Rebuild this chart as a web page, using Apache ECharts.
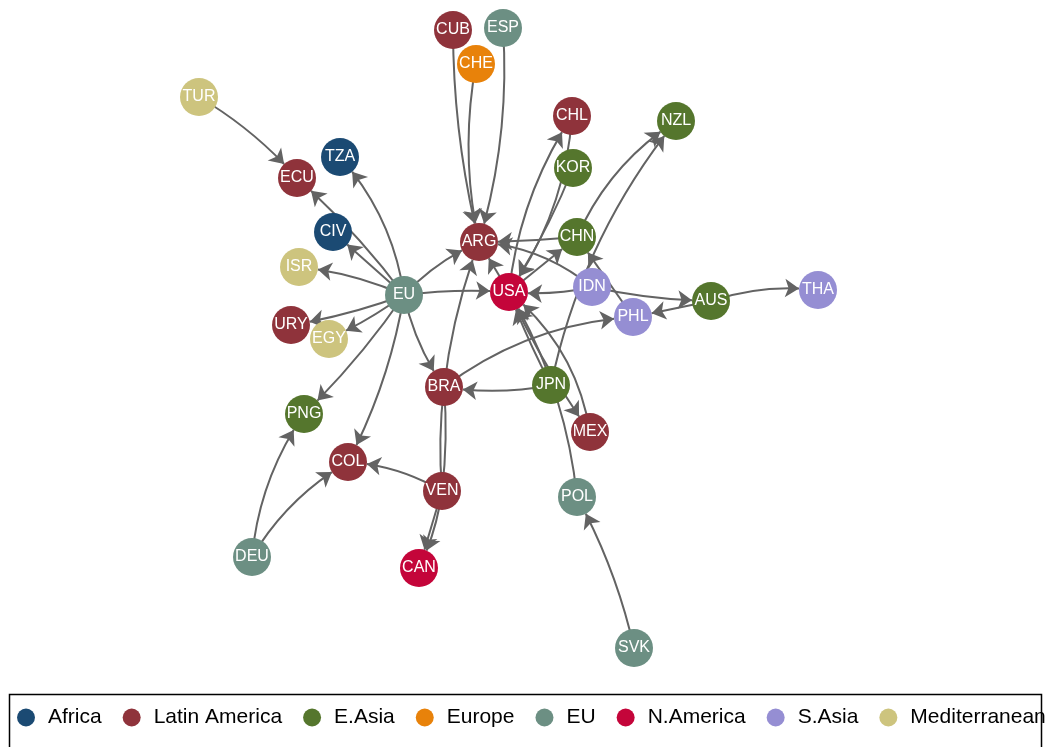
<!DOCTYPE html>
<html><head><meta charset="utf-8">
<script src="https://cdn.jsdelivr.net/npm/echarts@6/dist/echarts.min.js"></script>
<style>html,body{margin:0;padding:0;background:#fff}#c{width:1049px;height:747px}</style>
</head><body><div id="c"></div><script>
// ---- data ----
const categories = ['Africa','Latin America','E.Asia','Europe','EU','N.America','S.Asia','Mediterranean'];
const nodeNames = ['CUB','ESP','CHE','TUR','CHL','NZL','TZA','ECU','KOR','CIV','ARG','CHN','ISR','EU','USA','IDN','PHL','AUS','THA','URY','EGY','BRA','JPN','MEX','PNG','COL','VEN','POL','DEU','CAN','SVK'];
const nodeGroup = ['Latin America','EU','Europe','Mediterranean','Latin America','E.Asia','Africa','Latin America','E.Asia','Africa','Latin America','E.Asia','Mediterranean','EU','N.America','S.Asia','S.Asia','E.Asia','S.Asia','Latin America','Mediterranean','Latin America','E.Asia','Latin America','E.Asia','Latin America','Latin America','EU','EU','N.America','EU'];
const nodeX = [453,503,476,199,572,676,340,297,573,333,479,577,299,404,509,592,633,711,818,291,329,444,551,590,304,348,442,577,252,419,634];
const nodeY = [30,28,64,97,116,121,157,178,168,232,242,237,267,295,292,287,317,301,290,325,339,387,385,432,414,462,491,497,557,568,648];
const edgeFrom = ['TUR','EU','EU','EU','EU','EU','EU','EU','EU','EU','EU','EU','CUB','CHE','ESP','USA','BRA','CHN','IDN','USA','USA','CHL','KOR','CHN','JPN','PHL','IDN','IDN','AUS','AUS','BRA','JPN','JPN','POL','USA','MEX','SVK','DEU','DEU','VEN','VEN','VEN','BRA','VEN'];
const edgeTo   = ['ECU','TZA','ECU','CIV','ISR','URY','EGY','PNG','COL','BRA','ARG','USA','ARG','ARG','ARG','ARG','ARG','ARG','ARG','CHN','CHL','USA','USA','NZL','NZL','CHN','USA','AUS','PHL','THA','PHL','BRA','USA','USA','MEX','USA','POL','PNG','COL','COL','CAN','CAN','VEN','BRA'];

// ---- styles ----
const categoryColors = ['#1b4a73','#8f333b','#55762d','#e8820a','#6c8f83','#c4053a','#958ed3','#cdc47e'];
const edgeBend = [0.08,-0.15,-0.05,0,-0.08,0.05,0.05,0.05,0.08,-0.1,0.1,0.05,-0.06,-0.1,0.09,0,0.06,0.02,-0.16,0,0.12,0.14,0.05,0.15,0.12,0,0.08,-0.05,0,0.11,0.15,0.09,0.03,-0.11,-0.05,-0.19,-0.07,0.13,0.13,-0.12,0,0.08,0.05,0.05];
const undirected = [42,43];

const nodes = nodeNames.map((n,i)=>({name:n, value:[nodeX[i],nodeY[i]], category: categories.indexOf(nodeGroup[i])}));
const links = edgeFrom.map((s,i)=>{
  const l = {source:s, target:edgeTo[i], lineStyle:{curveness:edgeBend[i]}};
  if (undirected.indexOf(i) >= 0) l.symbol = ['none','none'];
  return l;
});

const chart = echarts.init(document.getElementById('c'), null, {renderer:'canvas'});
chart.setOption({
  animation:false,
  color: categoryColors,
  grid:{left:0, top:0, width:1049, height:747},
  xAxis:{type:'value', min:0, max:1049, show:false},
  yAxis:{type:'value', min:0, max:747, inverse:true, show:false},
  legend:{
    data: categories, left:17, top:707, width:1200, padding:0,
    icon:'circle', itemWidth:34, itemHeight:18, itemGap:21,
    textStyle:{fontSize:21, color:'#000', fontFamily:'Liberation Sans, Arial, sans-serif'},
    selectedMode:false
  },
  graphic:[{type:'rect', shape:{x:9.5, y:694.5, width:1032, height:80}, style:{fill:'none', stroke:'#000', lineWidth:1.5}, silent:true}],
  series:[{
    type:'graph', coordinateSystem:'cartesian2d', layout:'none',
    categories: categories.map((c,i)=>({name:c, itemStyle:{color:categoryColors[i]}})),
    data: nodes, links: links,
    symbol:'circle', symbolSize:38,
    edgeSymbol:['none','arrow'], edgeSymbolSize:[0,14],
    label:{show:true, position:'inside', color:'#fff', fontSize:16, fontFamily:'Liberation Sans, Arial, sans-serif'},
    lineStyle:{color:'#636363', width:2, opacity:1},
    emphasis:{disabled:true}
  }]
});
</script></body></html>
